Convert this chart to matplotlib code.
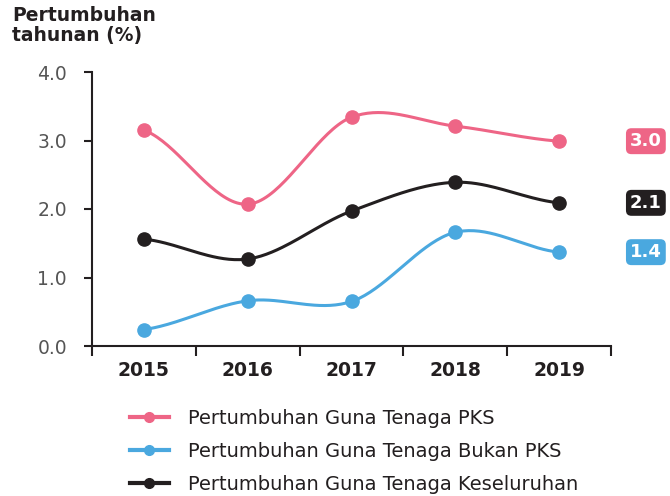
import numpy as np
import matplotlib
matplotlib.use("Agg")
import matplotlib.pyplot as plt
from matplotlib.lines import Line2D

years = ["2015", "2016", "2017", "2018", "2019"]
pks = [3.15, 2.07, 3.34, 3.21, 2.99]
bukan_pks = [0.24, 0.66, 0.65, 1.66, 1.37]
keseluruhan = [1.56, 1.27, 1.97, 2.39, 2.09]
end_labels = ["3.0", "1.4", "2.1"]
series_names = ["Pertumbuhan Guna Tenaga PKS",
                "Pertumbuhan Guna Tenaga Bukan PKS",
                "Pertumbuhan Guna Tenaga Keseluruhan"]
colors = ["#EE6586", "#4AA8DF", "#231F20"]


def smooth(x, y, n=40):
    x = np.asarray(x, float); y = np.asarray(y, float)
    k = len(x)
    m = np.zeros(k)
    m[0] = (y[1] - y[0]) / (x[1] - x[0]) * 0.5
    m[-1] = (y[-1] - y[-2]) / (x[-1] - x[-2]) * 0.5
    for i in range(1, k - 1):
        m[i] = (y[i + 1] - y[i - 1]) / (x[i + 1] - x[i - 1])
    xs_all, ys_all = [], []
    for i in range(k - 1):
        h = x[i + 1] - x[i]
        t = np.linspace(0, 1, n)
        h00 = 2 * t**3 - 3 * t**2 + 1
        h10 = t**3 - 2 * t**2 + t
        h01 = -2 * t**3 + 3 * t**2
        h11 = t**3 - t**2
        xs_all.append(x[i] + t * h)
        ys_all.append(h00 * y[i] + h10 * h * m[i] + h01 * y[i + 1] + h11 * h * m[i + 1])
    return np.concatenate(xs_all), np.concatenate(ys_all)


plt.rcParams['font.family'] = ['DejaVu Sans']

fig = plt.figure(figsize=(6.7, 4.96), dpi=100)
ax = fig.add_axes([92 / 670, 1 - 346 / 496, (611 - 92) / 670, (346 - 72) / 496])

xpos = np.arange(len(years))
data = [pks, bukan_pks, keseluruhan]
for vals, col, lab, name in zip(data, colors, end_labels, series_names):
    xs, ys = smooth(xpos, vals)
    ax.plot(xs, ys, color=col, lw=2.2, solid_capstyle='round', zorder=3)
    ax.plot(xpos, vals, 'o', color=col, ms=9.5, zorder=4)
    ax.annotate(lab, xy=(xpos[-1], vals[-1]), xytext=(51, 0), textcoords='offset points',
                ha='left', va='center', color='white', fontsize=13, fontweight='bold',
                bbox=dict(boxstyle='round,pad=0.22,rounding_size=0.3', fc=col, ec='none'),
                annotation_clip=False)

ax.set_xlim(-0.5, 4.5)
ax.set_ylim(0, 4.0)
ax.set_xticks(np.arange(-0.5, 5, 1.0))
ax.set_xticklabels([])
ax.set_xticks(xpos, minor=True)
ax.set_xticklabels(years, minor=True, fontsize=13.5, fontweight='bold', color='#231F20')
ax.tick_params(axis='x', which='minor', length=0, pad=11)
ax.tick_params(axis='x', which='major', length=7, width=1.5, color='#231F20', direction='out')
ax.set_yticks([0, 1, 2, 3, 4])
ax.set_yticklabels(["0.0", "1.0", "2.0", "3.0", "4.0"], fontsize=13.5, color='#555555')
ax.tick_params(axis='y', length=6, width=1.5, color='#231F20', pad=12)
for s in ['top', 'right']:
    ax.spines[s].set_visible(False)
for s in ['left', 'bottom']:
    ax.spines[s].set_color('#231F20')
    ax.spines[s].set_linewidth(1.5)

fig.text(12 / 670, 1 - 6 / 496, "Pertumbuhan\ntahunan (%)", ha='left', va='top',
         fontsize=13.5, fontweight='bold', color='#231F20', linespacing=1.05)

handles = [Line2D([0], [0], color=c, lw=3, marker='o', ms=7) for c in colors]
fig.legend(handles, series_names, loc='upper left', bbox_to_anchor=(120 / 670, 1 - 399 / 496),
           frameon=False, fontsize=14, handlelength=2.0, handletextpad=1.0,
           labelspacing=0.72, labelcolor='#231F20', borderpad=0)

fig.savefig("out.png", dpi=100)
